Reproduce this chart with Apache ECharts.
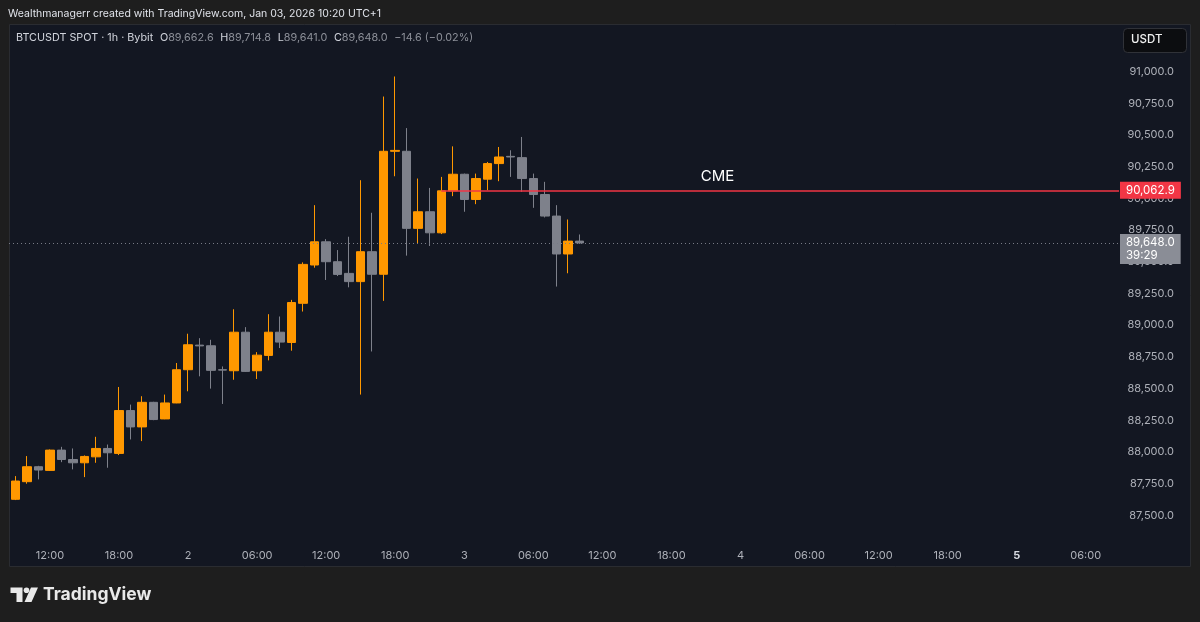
<!DOCTYPE html>
<html><head><meta charset="utf-8">
<script src="https://cdn.jsdelivr.net/npm/echarts@6/dist/echarts.min.js"></script>
<style>html,body{margin:0;padding:0;background:#1e1e1e}#c{width:1200px;height:622px}</style>
</head><body><div id="c"></div>
<script>
// Hours since Jan 1 00:00 (1h candles, Jan 1 09:00 -> Jan 3 10:00)
const hours  = [9,10,11,12,13,14,15,16,17,18,19,20,21,22,23,24,25,26,27,28,29,30,31,32,33,34,35,36,37,38,39,40,41,42,43,44,45,46,47,48,49,50,51,52,53,54,55,56,57,58];
const opens  = [87626,87765,87883,87854,88014,87940,87914,87961,88027,87988,88326,88197,88391,88260,88386,88648,88842,88837,88648,88640,88944,88640,88761,88944,88863,89172,89474,89657,89500,89408,89343,89579,89401,90371,90371,89763,89894,89728,90059,90190,89991,90151,90274,90331,90321,90156,90030,89860,89561,89662.6];
const highs  = [87809,87967,87890,88019,88040,88027,87972,88119,88058,88512,88373,88439,88395,88452,88701,88932,88897,88884,88674,89125,88984,88787,89086,89068,89199,89495,89946,89678,89592,89697,90143,89886,90803,90961,90554,90156,90082,90169,90410,90195,90195,90287,90405,90379,90484,90195,90130,89946,89833,89714.8];
const lows   = [87620,87749,87783,87849,87919,87862,87801,87914,87875,87975,88098,88085,88250,88258,88384,88478,88596,88499,88378,88569,88630,88575,88722,88819,88798,89107,89453,89356,89387,89298,88452,88792,89191,90174,89548,89645,89624,89718,90017,89894,89954,90064,90135,90169,90051,89925,89849,89304,89409,89641.0];
const closes = [87770,87883,87857,88014,87940,87914,87964,88027,87993,88326,88197,88391,88255,88386,88648,88845,88836,88643,88645,88944,88635,88763,88944,88866,89178,89479,89657,89500,89400,89343,89579,89401,90371,90378,89763,89894,89728,90059,90190,89991,90156,90274,90326,90326,90156,90030,89860,89561,89662.6,89648.0];

const priceTicks = [87500,87750,88000,88250,88500,88750,89000,89250,89500,89750,90000,90250,90500,90750,91000];
const timeTicks  = [12,18,24,30,36,42,48,54,60,66,72,78,84,90,96,102];
const timeLabels = ['12:00','18:00','2','06:00','12:00','18:00','3','06:00','12:00','18:00','4','06:00','12:00','18:00','5','06:00'];
const boldLabels = ['5'];

const cmeLevel = 90062.9;
const cmeStartHour = 46;
const cmeText = 'CME';
const cmeTextHour = 70;
const countdown = '39:29';

const headerLine1 = 'Wealthmanagerr created with TradingView.com, Jan 03, 2026 10:20 UTC+1';
const symbolText = 'BTCUSDT SPOT · 1h · Bybit';

const X_MIN = 8.44, X_MAX = 104.89, Y_MIN = 87305, Y_MAX = 91375;
const FONT = 'Inter, "Noto Sans", sans-serif';
const UP = '#ff9800', DOWN = '#7e818b';

const fmt = v => v.toLocaleString('en-US', {minimumFractionDigits: 1, maximumFractionDigits: 1});
const candles = hours.map((h, i) => [h, opens[i], closes[i], lows[i], highs[i]]);
const n = hours.length - 1;
const lastO = opens[n], lastH = highs[n], lastL = lows[n], lastC = closes[n];
const chg = lastC - lastO, pct = chg / lastO * 100;
const sgn = v => (v < 0 ? '\u2212' : '+') + Math.abs(v).toFixed(1);
const chgText = sgn(chg) + ' (' + (pct < 0 ? '\u2212' : '+') + Math.abs(pct).toFixed(2) + '%)';

const chart = echarts.init(document.getElementById('c'));
chart.setOption({
  animation: false,
  backgroundColor: '#1e1e1e',
  textStyle: {fontFamily: FONT},
  grid: {left: 9, right: 81, top: 24, bottom: 82},
  xAxis: {
    type: 'value', min: X_MIN, max: X_MAX,
    axisLine: {show: false}, axisTick: {show: false}, splitLine: {show: false},
    axisLabel: {
      customValues: timeTicks, margin: 10, color: '#aeb1b9', fontSize: 11, fontFamily: FONT,
      formatter: v => {
        const i = timeTicks.indexOf(Math.round(v));
        if (i < 0) return '';
        const t = timeLabels[i];
        return boldLabels.includes(t) ? '{b|' + t + '}' : t;
      },
      rich: {b: {fontWeight: 'bold', color: '#d8dbe2', fontSize: 11, fontFamily: FONT}}
    }
  },
  yAxis: {
    type: 'value', position: 'right', min: Y_MIN, max: Y_MAX, scale: true,
    axisLine: {show: false}, axisTick: {show: false}, splitLine: {show: false},
    axisLabel: {customValues: priceTicks, align: 'right', margin: 55, color: '#aeb1b9', fontSize: 11, fontFamily: FONT, formatter: v => fmt(v)}
  },
  series: [{
    type: 'candlestick',
    data: candles,
    barWidth: 9,
    itemStyle: {color: UP, color0: DOWN, borderColor: UP, borderColor0: DOWN, borderWidth: 1},
    markLine: {
      silent: true, symbol: 'none', animation: false,
      data: [
        {yAxis: lastC,
         lineStyle: {color: '#787b86', type: [1, 3], width: 1},
         label: {show: false}},
        [{coord: [cmeStartHour, cmeLevel],
          lineStyle: {color: '#f23645', type: 'solid', width: 1.5},
          label: {show: true, position: 'end', distance: 1, formatter: () => fmt(cmeLevel),
                  backgroundColor: '#f23645', color: '#ffffff', fontSize: 11.5, fontFamily: FONT, padding: [3, 6, 2, 6]}},
         {coord: [X_MAX, cmeLevel]}]
      ]
    },
    markPoint: {
      silent: true, symbol: 'circle', symbolSize: 0,
      data: [
        {coord: [cmeTextHour, cmeLevel], label: {show: true, formatter: cmeText, offset: [0, -14], color: '#ffffff', fontSize: 15, fontFamily: FONT}},
        {coord: [X_MAX, lastC], label: {show: true, position: 'right', distance: 1, verticalAlign: 'top', offset: [0, -9],
          formatter: () => fmt(lastC) + '\n' + countdown,
          backgroundColor: '#8a8d96', color: '#ffffff', fontSize: 11.5, fontFamily: FONT, lineHeight: 13, padding: [2, 6, 2, 6]}}
      ]
    }
  }],
  graphic: [
    {type: 'rect', z: -10, shape: {x: 9.5, y: 24.5, width: 1181, height: 542}, style: {fill: '#131722', stroke: '#2a2c31', lineWidth: 1}},
    {type: 'text', z: 10, left: 8, top: 8, style: {text: headerLine1, fill: '#e0e3ea', fontSize: 10.5, fontFamily: FONT}},
    {type: 'text', z: 10, left: 16, top: 32, style: {
      text: '{a|' + symbolText + '}  {a|O}{v|' + fmt(lastO) + '}  {a|H}{v|' + fmt(lastH) + '}  {a|L}{v|' + fmt(lastL) + '}  {a|C}{v|' + fmt(lastC) + '}  {v|' + chgText + '}',
      rich: {a: {fill: '#d1d4dc', fontSize: 10.8, fontFamily: FONT}, v: {fill: lastC < lastO ? '#8d9099' : UP, fontSize: 10.8, fontFamily: FONT}}
    }},
    {type: 'rect', z: 10, shape: {x: 1123.5, y: 28.5, width: 63, height: 24, r: 4}, style: {fill: '#0c0d10', stroke: '#303238', lineWidth: 1}},
    {type: 'text', z: 11, left: 1131, top: 34, style: {text: 'USDT', fill: '#f0f0f0', fontSize: 11.5, fontWeight: 500, fontFamily: FONT}},
    // TradingView logo
    {type: 'polygon', z: 10, shape: {points: [[10.5, 587.5], [22.5, 587.5], [22.5, 602], [16.5, 602], [16.5, 593], [10.5, 593]]}, style: {fill: '#e9e9e9'}},
    {type: 'circle', z: 10, shape: {cx: 26.5, cy: 590.3, r: 2.8}, style: {fill: '#e9e9e9'}},
    {type: 'polygon', z: 10, shape: {points: [[31, 587.5], [38, 587.5], [31.5, 602], [24.5, 602]]}, style: {fill: '#e9e9e9'}},
    {type: 'text', z: 10, left: 43, top: 586, style: {text: 'TradingView', fill: '#e9e9e9', fontSize: 17.5, fontWeight: 'bold', fontFamily: FONT}}
  ]
});
</script>
</body></html>
